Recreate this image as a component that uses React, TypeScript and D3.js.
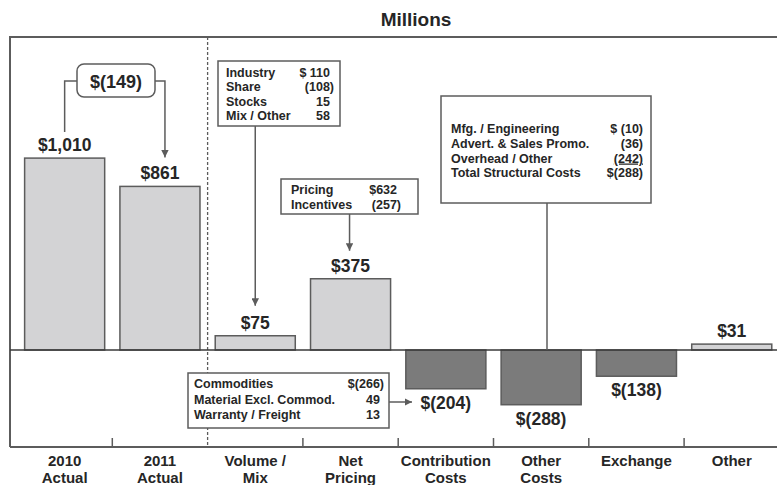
import React from 'react'
import { scaleBand, scaleLinear } from 'd3'

// chart data
const categories = ['2010 Actual', '2011 Actual', 'Volume / Mix', 'Net Pricing', 'Contribution Costs', 'Other Costs', 'Exchange', 'Other']
const categoryLines = [['2010', 'Actual'], ['2011', 'Actual'], ['Volume /', 'Mix'], ['Net', 'Pricing'], ['Contribution', 'Costs'], ['Other', 'Costs'], ['Exchange'], ['Other']]
const values = [1010, 861, 75, 375, -204, -288, -138, 31]
const valueLabels = ['$1,010', '$861', '$75', '$375', '$(204)', '$(288)', '$(138)', '$31']
const changeLabel = '$(149)'

// callout tables
const volumeItems = [['Industry', '$ 110'], ['Share', '(108)'], ['Stocks', '15'], ['Mix / Other', '58']]
const pricingItems = [['Pricing', '$632'], ['Incentives', '(257)']]
const structuralItems = [['Mfg. / Engineering', '$ (10)'], ['Advert. & Sales Promo.', '(36)'], ['Overhead / Other', '(242)'], ['Total Structural Costs', '$(288)']]
const contributionItems = [['Commodities', '$(266)'], ['Material Excl. Commod.', '49'], ['Warranty / Freight', '13']]

const W = 777
const H = 485
const font = '"Liberation Sans", Arial, sans-serif'
const ink = '#262626'
const lineCol = '#5c5c5c'

const Callout = ({ x, y, w, h, items, left, right, first, step, underline }) => (
    <g>
        <rect x={x} y={y} width={w} height={h} fill="white" stroke={lineCol} strokeWidth={1.5} />
        {items.map(([label, val], i) => {
            const by = first + i * step
            const paren = val.endsWith(')')
            const rx = paren ? right + 4 : right
            return (
                <g key={label}>
                    <text x={left} y={by} fontSize={12.5} fontWeight="bold" fill={ink}>{label}</text>
                    <text x={rx} y={by} fontSize={12.5} fontWeight="bold" fill={ink} textAnchor="end"
                        textDecoration={underline === i ? 'underline' : undefined}>{val}</text>
                </g>
            )
        })}
    </g>
)

const App = () => {
    const x = scaleBand()
        .domain(categories)
        .range([17, 779.4])
        .paddingInner(0.16)
        .paddingOuter(0.08)

    const y = scaleLinear().domain([-300, 1100]).range([407, 141])
    const y0 = y(0)
    const axisY = 447
    const half = x.step() * 0.08
    const cx = c => x(c) + x.bandwidth() / 2
    const boundary = i => x(categories[i]) - half

    return (
        <svg width={W} height={H} style={{ position: 'absolute', left: 0, top: 0, fontFamily: font }}>
            <defs>
                <marker id="arr" viewBox="0 0 10 10" refX="10" refY="5" markerWidth="5" markerHeight="5" orient="auto">
                    <path d="M0,0 L10,5 L0,10 z" fill={lineCol} />
                </marker>
            </defs>
            <rect width={W} height={H} fill="white" />

            <text x={416} y={26} textAnchor="middle" fontSize={19} fontWeight="bold" fill={ink}>Millions</text>

            {/* frame */}
            <path d={`M10,${axisY} V37 H${W}`} fill="none" stroke={lineCol} strokeWidth={2} />
            <line x1={10} x2={W} y1={axisY} y2={axisY} stroke={lineCol} strokeWidth={2} />

            {/* separator between actuals and walk */}
            <line x1={boundary(2)} x2={boundary(2)} y1={37} y2={axisY} stroke={lineCol} strokeWidth={1.3} strokeDasharray="3,2" />

            {/* tick marks */}
            {[1, 3, 4, 5, 6, 7].map(i => (
                <line key={i} x1={boundary(i)} x2={boundary(i)} y1={axisY - 9} y2={axisY} stroke={lineCol} strokeWidth={1.5} />
            ))}

            {/* bars */}
            {values.map((v, i) => (
                <rect key={categories[i]}
                    x={x(categories[i])}
                    y={Math.min(y(v), y0)}
                    width={x.bandwidth()}
                    height={Math.abs(y(v) - y0)}
                    fill={v >= 0 ? '#d3d3d5' : '#7b7b7b'}
                    stroke={lineCol}
                    strokeWidth={1.5} />
            ))}
            <line x1={10} x2={W} y1={y0} y2={y0} stroke="#3a3a3a" strokeWidth={1.5} />

            {/* value labels */}
            {values.map((v, i) => (
                <text key={categories[i]} x={cx(categories[i])} y={v >= 0 ? y(v) - 7 : y(v) + 20}
                    textAnchor="middle" fontSize={17.5} fontWeight="bold" fill={ink}>{valueLabels[i]}</text>
            ))}

            {/* category labels */}
            {categoryLines.map((lines, i) => (
                <text key={categories[i]} x={cx(categories[i])} textAnchor="middle" fontSize={15} fontWeight="bold" fill={ink}>
                    {lines.map((l, j) => <tspan key={j} x={cx(categories[i])} y={466 + j * 17}>{l}</tspan>)}
                </text>
            ))}

            {/* 2010 -> 2011 bracket */}
            <path d={`M77,81 H${cx(categories[0])} V132`} fill="none" stroke={lineCol} strokeWidth={1.5} />
            <path d={`M155,81 H${cx(categories[1]) + 5} V${y(values[1]) - 29}`} fill="none" stroke={lineCol} strokeWidth={1.5} markerEnd="url(#arr)" />
            <rect x={77} y={64} width={78} height={33} rx={7} fill="white" stroke={lineCol} strokeWidth={1.5} />
            <text x={116} y={87.5} textAnchor="middle" fontSize={18} fontWeight="bold" fill={ink}>{changeLabel}</text>

            {/* connectors */}
            <line x1={cx(categories[2])} x2={cx(categories[2])} y1={126} y2={y(values[2]) - 30} stroke={lineCol} strokeWidth={1.5} markerEnd="url(#arr)" />
            <line x1={cx(categories[3]) - 1} x2={cx(categories[3]) - 1} y1={214} y2={y(values[3]) - 28} stroke={lineCol} strokeWidth={1.5} markerEnd="url(#arr)" />
            <line x1={547} x2={547} y1={203} y2={y0} stroke={lineCol} strokeWidth={1.5} />
            <line x1={389} x2={412} y1={402} y2={402} stroke={lineCol} strokeWidth={1.5} markerEnd="url(#arr)" />

            <Callout x={218} y={61} w={122} h={65} items={volumeItems} left={226} right={330} first={76.7} step={14.4} />
            <Callout x={281} y={179} w={137} h={35} items={pricingItems} left={291} right={397} first={194} step={15.3} />
            <Callout x={441} y={96} w={210} h={107} items={structuralItems} left={451} right={639} first={132.7} step={14.9} underline={2} />
            <Callout x={188} y={373} w={201} h={55} items={contributionItems} left={194} right={380} first={388.3} step={15.3} />
        </svg>
    )
}

export default App
